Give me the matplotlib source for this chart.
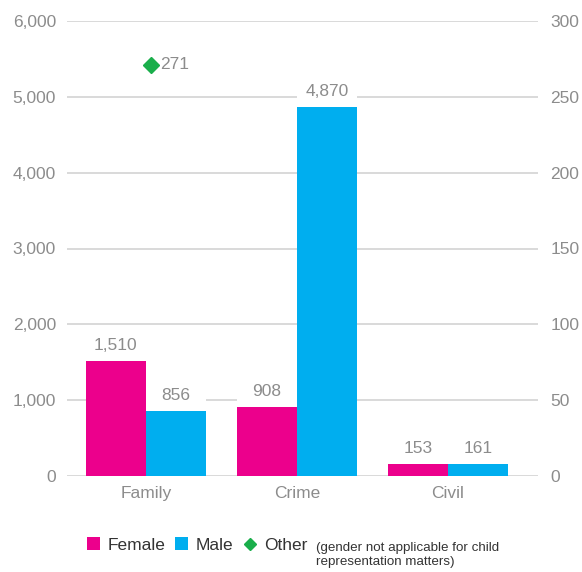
import numpy as np
import matplotlib
matplotlib.use("Agg")
import matplotlib.pyplot as plt
from matplotlib.patches import Patch
from matplotlib.lines import Line2D

plt.rcParams['font.family'] = ['Liberation Sans', 'DejaVu Sans']

# Data
categories = ["Family", "Crime", "Civil"]
female = [1510, 908, 153]
male = [856, 4870, 161]
other_category = "Family"
other_value = 271

left_ticks = [0, 1000, 2000, 3000, 4000, 5000, 6000]
right_ticks = [0, 50, 100, 150, 200, 250, 300]

# Styles
C_FEMALE = "#EC008C"
C_MALE = "#00AEEF"
C_OTHER = "#1AAE4B"
C_TEXT = "#8C8C8C"
C_GRID = "#D0D0D0"
FS = 12.5

fig = plt.figure(figsize=(5.82, 5.72), dpi=100)
ax = fig.add_axes([67 / 582, 1 - 476 / 572, 471 / 582, 455 / 572])

x = np.arange(len(categories))
w = 0.4

ax.set_xlim(-0.523, len(categories) - 1 + 0.596)
ax.set_ylim(left_ticks[0], left_ticks[-1])
ax.set_yticks(left_ticks)
ax.set_yticklabels([f"{v:,}" for v in left_ticks])
ax.yaxis.grid(True, color=C_GRID, linewidth=1.1)
ax.set_axisbelow(True)
for s in ax.spines.values():
    s.set_visible(False)
ax.tick_params(axis="both", length=0, colors=C_TEXT, labelsize=FS)
ax.tick_params(axis="y", pad=8)
ax.tick_params(axis="x", pad=7)
ax.set_xticks(x)
ax.set_xticklabels(categories)

ax.bar(x - w / 2, female, width=w, color=C_FEMALE, zorder=2)
ax.bar(x + w / 2, male, width=w, color=C_MALE, zorder=2)

# Value labels sitting in white boxes the width of the bar
box_h = 410
for xs, vals in ((x - w / 2, female), (x + w / 2, male)):
    ax.bar(xs, [box_h] * len(vals), bottom=vals, width=w, color="white", zorder=3)
    for xi, v in zip(xs, vals):
        ax.text(xi, v + box_h / 2, f"{v:,}", ha="center", va="center",
                color=C_TEXT, fontsize=FS, zorder=4)

# Secondary axis for "Other"
ax2 = ax.twinx()
ax2.set_ylim(right_ticks[0], right_ticks[-1])
ax2.set_yticks(right_ticks)
for s in ax2.spines.values():
    s.set_visible(False)
ax2.tick_params(axis="y", length=0, colors=C_TEXT, labelsize=FS, pad=9)

ox = categories.index(other_category) + 0.033
ax2.plot([ox], [other_value], marker="D", markersize=8.5, color=C_OTHER,
         linestyle="none", zorder=5)
ax2.annotate(f"{other_value:,}", (ox, other_value), xytext=(6.5, 0),
             textcoords="offset points", ha="left", va="center",
             color=C_TEXT, fontsize=FS)

# Legend
handles = [
    Patch(facecolor=C_FEMALE, edgecolor="none"),
    Patch(facecolor=C_MALE, edgecolor="none"),
    Line2D([], [], marker="D", color=C_OTHER, linestyle="none", markersize=6.5),
]
leg = fig.legend(handles, ["Female", "Male", "Other"], loc="center left",
                 bbox_to_anchor=(80 / 582, 1 - 545 / 572), ncol=3, frameon=False,
                 fontsize=FS, handlelength=0.75, handleheight=0.75,
                 handletextpad=0.45, columnspacing=0.55, borderaxespad=0)
for t in leg.get_texts():
    t.set_color("#333333")

fig.text(316 / 582, 1 - 555 / 572,
         "(gender not applicable for child\nrepresentation matters)",
         ha="left", va="center", fontsize=9.6, color="#333333",
         linespacing=1.3)

fig.savefig("out.png", dpi=100)
